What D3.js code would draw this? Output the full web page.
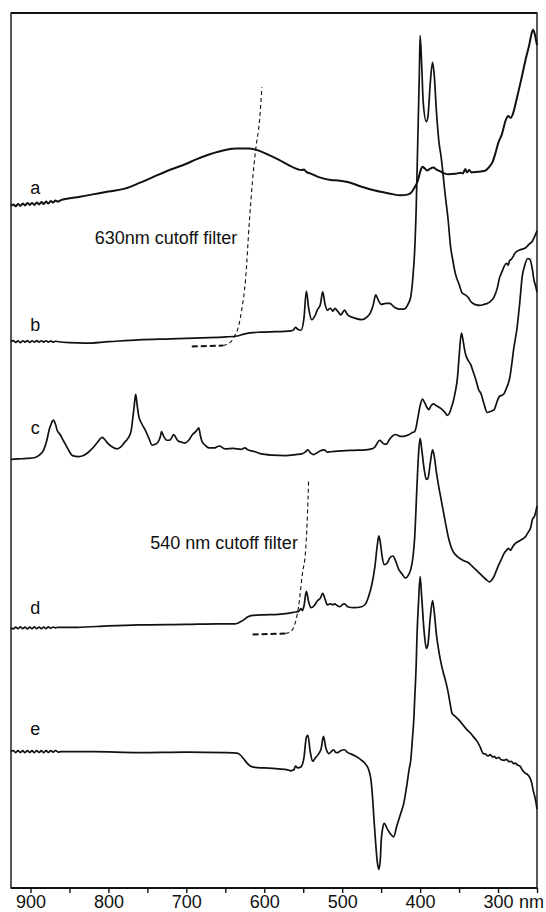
<!DOCTYPE html>
<html>
<head>
<meta charset="utf-8">
<script src="https://cdn.jsdelivr.net/npm/d3@7"></script>
<style>
  html, body { margin: 0; padding: 0; background: #fff; }
  svg text { font-family: "Liberation Sans", Arial, Helvetica, sans-serif; fill: #111; }
</style>
</head>
<body>
<svg id="chart" width="546" height="912"></svg>
<script>
// Difference / absorption spectra a–e, [wavelength nm, signal (arb. units)]
const specA = [[925,0],[922,0.15],[919,-0.05],[916,0.2],[913,0.0],[910,0.25],[907,0.05],[904,0.3],[901,0.1],[898,0.3],[895,0.1],[892,0.35],[889,0.15],[886,0.4],[883,0.2],[880,0.45],[877,0.25],[874,0.5],[871,0.35],[868,0.55],[865,0.45],[861,0.6],
  [840,0.9],[820,1.2],[800,1.5],[779,1.8],[760,2.4],[743,3.0],[720,3.8],[700,4.4],[689,4.8],[670,5.4],[650,5.85],[635,6.0],[620,6.0],[608,5.8],[595,5.35],[581,4.8],[565,4.1],[552,3.75],[549,3.8],[546,3.55],[541,3.4],[530,3.0],[515,2.7],[505,2.65],[493,2.5],[475,2.0],[458,1.6],[440,1.3],[425,1.1],[415,1.2],[412,1.35],[408,1.8],[403,2.6],[399,3.8],[397,4.1],[394,3.9],[391,3.7],[387,3.9],[383,4.0],[379,3.8],[374,3.6],[369,3.4],[364,3.3],[355,3.35],[348,3.45],[345,3.4],[342,3.85],[340,3.5],[337,3.75],[334,3.5],[328,3.55],[322,3.6],[316,3.7],[311,4.1],[307,4.6],[303,5.6],[300,6.5],[295,7.5],[290,9.0],[287,9.4],[284,9.2],[281,9.6],[276,11.2],[270,13.3],[264,15.5],[260,16.8],[257,18.0],[255,18.4],[253,18.0],[251,17.2],[250,16.8]];

const specB = [[925,0],[922,0.12],[919,-0.08],[916,0.1],[913,-0.1],[910,0.1],[907,-0.05],[904,0.12],[901,-0.08],[898,0.1],[895,-0.05],[892,0.12],[889,-0.05],[886,0.1],[883,-0.05],[880,0.1],[877,-0.05],[874,0.08],[871,-0.05],[868,0.05],[864,0],
  [850,-0.1],[830,-0.15],[800,0.0],[761,0.2],[720,0.3],[680,0.4],[649,0.5],[635,0.6],[626,0.8],[615,0.95],[605,1.0],[585,1.05],[569,1.1],[563,1.2],[560,1.5],[557,1.3],[553,1.2],[549,2.5],[546,5.3],[543,3.5],[539,2.3],[535,2.7],[532,3.3],[528,3.9],[525,5.2],[522,3.9],[519,3.3],[515,3.5],[512,3.2],[509,3.5],[507,3.3],[504,3.0],[502,2.8],[499,3.1],[497,3.3],[493,2.8],[485,2.5],[475,2.3],[468,2.6],[464,3.0],[460,3.9],[457,4.9],[454,4.4],[450,3.9],[444,4.0],[439,4.0],[433,3.6],[427,3.4],[421,3.4],[415,4.0],[412,4.7],[409,7.0],[407,9.5],[405,14.0],[403,21.0],[401,28.0],[400,32.0],[398,29.0],[396,25.0],[392,23.0],[390,23.5],[387,27.0],[384,29.2],[382,28.0],[379,24.0],[376,21.0],[373,19.3],[368,15.5],[364,12.7],[361,10.0],[358,8.5],[355,7.2],[350,6.0],[346,5.1],[342,4.9],[338,4.6],[335,4.2],[332,4.0],[328,3.85],[323,3.8],[318,3.9],[314,4.0],[310,4.2],[305,4.7],[301,5.6],[298,6.7],[295,7.3],[292,7.9],[289,8.2],[287,8.0],[285,8.5],[283,8.6],[280,9.0],[278,9.3],[272,9.6],[268,9.7],[265,9.8],[260,10.2],[256,10.5],[253,11.0],[250,11.6]];

const specC = [[925,0],[915,0.05],[905,0.1],[894,0.2],[888,0.5],[883,1.0],[879,2.0],[876,3.1],[873,3.8],[871,4.1],[868,3.7],[866,3.1],[862,2.6],[858,2.0],[852,1.1],[846,0.4],[838,0.3],[832,0.4],[825,0.8],[819,1.3],[813,1.9],[808,2.3],[804,2.0],[801,1.7],[795,1.3],[789,1.1],[784,1.3],[780,1.7],[775,2.2],[771,2.9],[769,4.1],[767,5.5],[765,6.8],[763,5.6],[761,4.5],[757,3.7],[753,3.1],[748,2.2],[744,1.5],[739,1.6],[735,2.0],[733,2.5],[732,2.9],[729,2.4],[725,2.0],[722,2.0],[720,2.1],[718,2.4],[716,2.6],[713,2.2],[710,1.9],[706,1.8],[702,1.7],[697,2.0],[692,2.6],[688,2.9],[686,3.1],[684,3.3],[682,2.5],[680,1.9],[676,1.5],[671,1.2],[664,1.2],[660,1.35],[657,1.4],[653,1.2],[650,1.1],[640,1.15],[630,1.05],[625,1.2],[621,1.0],[612,0.8],[605,0.6],[590,0.45],[572,0.4],[560,0.5],[551,0.6],[547,0.8],[544,1.0],[541,0.7],[537,0.5],[532,0.7],[528,0.9],[523,1.0],[519,0.75],[515,0.8],[500,0.9],[485,0.95],[470,1.0],[462,1.1],[458,1.3],[455,1.7],[452,2.0],[449,1.8],[446,1.6],[443,1.6],[440,2.0],[436,2.4],[432,2.6],[428,2.5],[425,2.4],[421,2.4],[414,2.6],[410,2.8],[407,2.9],[405,3.4],[403,4.3],[400,5.6],[397,6.3],[394,5.9],[391,5.4],[389,5.2],[386,5.6],[383,5.8],[379,5.6],[373,5.3],[368,4.9],[365,4.6],[362,4.9],[360,5.4],[358,5.9],[355,7.0],[352,8.6],[350,10.7],[347,13.2],[345,12.5],[343,11.5],[341,10.8],[338,10.3],[335,9.9],[332,9.2],[328,8.2],[325,7.3],[322,6.9],[318,5.8],[314,4.9],[310,5.0],[305,5.2],[303,5.6],[301,6.1],[298,6.6],[295,6.7],[292,6.9],[289,7.5],[285,8.5],[282,10.2],[280,11.5],[278,12.5],[276,13.5],[272,16.5],[269,19.1],[266,20.2],[262,21.0],[259,20.9],[256,19.9],[254,18.8],[252,18.2],[250,17.5]];

const specD = [[925,0],[922,-0.12],[919,0.08],[916,-0.1],[913,0.1],[910,-0.1],[907,0.08],[904,-0.12],[901,0.08],[898,-0.1],[895,0.1],[892,-0.1],[889,0.08],[886,-0.1],[883,0.08],[880,-0.08],[877,0.1],[874,-0.05],[871,0.08],[868,0],[864,0.05],
  [840,0.05],[800,0.2],[761,0.3],[700,0.35],[660,0.4],[640,0.4],[635,0.45],[630,0.65],[626,0.85],[622,1.1],[618,1.25],[614,1.3],[600,1.35],[582,1.4],[570,1.5],[560,1.65],[556,1.7],[553,2.0],[551,1.8],[549,2.3],[546,3.8],[543,2.7],[540,2.1],[536,2.3],[532,2.8],[528,3.1],[525,3.6],[522,3.0],[519,2.4],[515,2.5],[512,2.4],[510,2.5],[506,2.3],[503,2.2],[500,2.4],[497,2.5],[493,2.2],[485,2.1],[475,2.2],[470,2.5],[466,3.3],[462,4.5],[458,6.4],[455,8.6],[453,9.6],[451,8.9],[449,7.6],[446,6.6],[442,6.8],[439,7.3],[435,7.5],[431,6.9],[428,6.2],[423,5.6],[419,5.2],[415,5.5],[412,6.1],[409,7.5],[407,9.4],[404,14.9],[402,18.2],[400,19.8],[398,18.7],[395,16.7],[392,15.5],[390,15.6],[387,17.2],[384,18.6],[382,18.0],[379,16.2],[376,14.7],[373,13.4],[368,11.2],[363,9.2],[358,8.0],[354,7.6],[350,7.3],[344,7.0],[338,6.8],[334,6.5],[329,6.1],[325,5.8],[320,5.4],[316,5.1],[311,4.8],[308,5.0],[305,5.4],[302,6.0],[299,6.6],[296,7.1],[292,7.8],[289,8.1],[287,8.3],[284,8.1],[281,8.5],[278,8.8],[272,9.1],[268,9.3],[265,9.5],[262,9.9],[258,10.5],[256,11.3],[253,11.7],[250,12.7]];

const specE = [[925,0],[922,0.12],[919,-0.1],[916,0.12],[913,-0.08],[910,0.1],[907,-0.1],[904,0.12],[901,-0.08],[898,0.1],[895,-0.1],[892,0.12],[889,-0.08],[886,0.1],[883,-0.1],[880,0.12],[877,-0.08],[874,0.1],[871,-0.05],[868,0.12],[864,-0.05],[861,0],
  [820,0],[761,-0.1],[700,-0.05],[650,-0.1],[635,-0.15],[630,-0.4],[626,-0.8],[622,-1.2],[618,-1.5],[612,-1.65],[600,-1.7],[582,-1.8],[570,-1.9],[566,-2.0],[562,-1.9],[560,-1.5],[557,-1.7],[553,-1.6],[549,-0.6],[546,1.5],[544,1.7],[541,0.0],[538,-1.0],[534,-0.6],[530,-0.2],[527,0.3],[524,1.6],[521,0.4],[517,-0.2],[514,0.0],[511,0.2],[508,-0.1],[506,-0.1],[502,0.1],[497,0.2],[493,-0.1],[490,-0.2],[482,-0.5],[475,-0.9],[470,-1.3],[466,-1.9],[463,-3.0],[461,-4.8],[459,-7.3],[457,-9.6],[455,-11.5],[453,-12.3],[451,-11.2],[450,-9.4],[448,-8.0],[446,-7.5],[442,-8.1],[438,-8.6],[434,-8.9],[430,-7.8],[425,-6.5],[421,-5.4],[417,-3.5],[414,-1.8],[412,-0.9],[410,1.2],[408,3.5],[407,5.4],[405,9.2],[404,12.1],[402,15.7],[400,18.3],[398,16.2],[395,12.7],[392,10.8],[390,11.2],[387,14.0],[384,15.8],[382,14.7],[379,12.2],[376,10.5],[373,9.2],[370,8.2],[367,7.3],[364,6.2],[361,4.8],[359,4.0],[355,3.7],[350,3.3],[345,2.8],[340,2.3],[336,2.0],[332,1.6],[327,1.1],[323,0.5],[319,-0.2],[316,-0.25],[313,-0.45],[310,-0.3],[307,-0.55],[305,-0.5],[302,-0.7],[299,-0.6],[296,-0.85],[292,-0.9],[289,-0.8],[286,-1.05],[283,-1.0],[280,-1.25],[278,-1.2],[275,-1.4],[272,-1.5],[269,-1.9],[266,-2.2],[262,-2.4],[260,-2.6],[257,-3.2],[255,-4.0],[252,-5.0],[250,-6.0]];

// Cut-off filter transmission curves (drawn over spectra b and d)
const filter630 = [[693,-0.5],[653,-0.4],[644,-0.1],[638,0.6],[633,1.6],[629,3.3],[624,6.5],[619,12.7],[615,16.9],[611,20.1],[606,23.2],[603,26.6]];
const filter540 = [[615,-0.7],[573,-0.6],[566,-0.4],[562,0.1],[556,2.2],[551,5.7],[547,8.0],[545,11.0],[543,15.6]];

// Vertical stacking offsets for the spectra
const traceNames = ["a", "b", "c", "d", "e"];
const traceOffsets = [71.3, 57.1, 44.8, 27.2, 14.25];
const filterNames = ["630nm cutoff filter", "540 nm cutoff filter"];

const tickValues = [900, 850, 800, 750, 700, 650, 600, 550, 500, 450, 400, 350, 300, 250];
const tickLabels = ["900", "", "800", "", "700", "", "600", "", "500", "", "400", "", "300", ""];

const svg = d3.select("#chart");
const plotL = 11, plotR = 537, plotT = 13, plotB = 888;
const fontSize = 18;

const x = d3.scaleLinear().domain([925, 250]).range([plotL, plotR]);
const y = d3.scaleLinear().domain([0, 91.46]).range([plotB, plotT]);

const spectra = [specA, specB, specC, specD, specE];

// Frame: heavier top edge and baseline, lighter sides
svg.append("rect")
  .attr("x", plotL).attr("y", plotT)
  .attr("width", plotR - plotL).attr("height", plotB - plotT)
  .attr("fill", "none").attr("stroke", "#111").attr("stroke-width", 1.4);
[plotT, plotB].forEach(yy => {
  svg.append("line")
    .attr("x1", plotL).attr("x2", plotR).attr("y1", yy).attr("y2", yy)
    .attr("stroke", "#111").attr("stroke-width", 2);
});

// Spectra
spectra.forEach((spec, i) => {
  const off = traceOffsets[i];
  const line = d3.line()
    .x(d => x(d[0]))
    .y(d => y(off + d[1]))
    .curve(d3.curveMonotoneX);
  svg.append("path")
    .datum(spec)
    .attr("d", line)
    .attr("fill", "none")
    .attr("stroke", "#111")
    .attr("stroke-width", i === 0 ? 2.0 : 1.7)
    .attr("stroke-linejoin", "round");
});

// Trace letters
const labelLift = [17.7, 17, 31, 19.7, 22.4];
traceNames.forEach((name, i) => {
  svg.append("text")
    .attr("x", x(894))
    .attr("y", y(traceOffsets[i]) - labelLift[i] + 6)
    .attr("text-anchor", "middle")
    .attr("font-size", fontSize)
    .text(name);
});

// Filter curves: flat part heavy dashes, rising edge fine dashes
function drawFilter(data, off, flatLimit) {
  const line = d3.line()
    .x(d => x(d[0]))
    .y(d => y(off + d[1]))
    .curve(d3.curveMonotoneX);
  const flat = data.filter(d => d[0] >= flatLimit);
  const edge = data.filter(d => d[0] <= flatLimit);
  svg.append("path").datum(flat).attr("d", line)
    .attr("fill", "none").attr("stroke", "#111")
    .attr("stroke-width", 2).attr("stroke-dasharray", "6,3");
  svg.append("path").datum(edge).attr("d", line)
    .attr("fill", "none").attr("stroke", "#111")
    .attr("stroke-width", 1.1).attr("stroke-dasharray", "4,3");
}
drawFilter(filter630, traceOffsets[1], 653);
drawFilter(filter540, traceOffsets[3], 573);

svg.append("text")
  .attr("x", 166).attr("y", 244)
  .attr("text-anchor", "middle").attr("font-size", fontSize)
  .text(filterNames[0]);
svg.append("text")
  .attr("x", 224).attr("y", 549)
  .attr("text-anchor", "middle").attr("font-size", fontSize)
  .text(filterNames[1]);

// Wavelength axis
const axis = d3.axisBottom(x)
  .tickValues(tickValues)
  .tickSize(5)
  .tickPadding(2)
  .tickFormat((d, i) => tickLabels[i]);
const gAxis = svg.append("g")
  .attr("transform", `translate(0,${plotB})`)
  .call(axis);
gAxis.select(".domain").remove();
gAxis.selectAll(".tick line").attr("stroke", "#111").attr("stroke-width", 1.4);
gAxis.selectAll(".tick text")
  .attr("font-size", fontSize)
  .attr("font-family", "'Liberation Sans', Arial, sans-serif")
  .attr("fill", "#111");

svg.append("text")
  .attr("x", x(300) + 21).attr("y", 907.8)
  .attr("font-size", fontSize)
  .text("nm");
</script>
</body>
</html>
